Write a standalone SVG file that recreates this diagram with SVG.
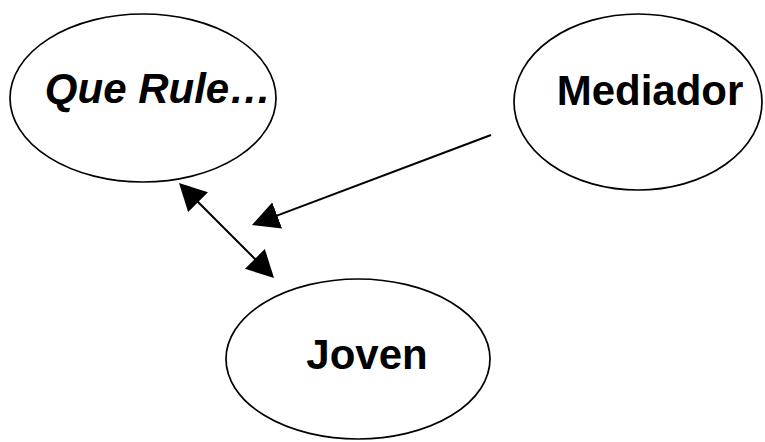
<svg xmlns="http://www.w3.org/2000/svg" width="765" height="442" viewBox="0 0 765 442">
<style>
.node{fill:#fff;stroke:#000;stroke-width:1.7}
.lbl{font-family:"Liberation Sans",Arial,sans-serif;font-weight:bold;font-size:42px;fill:#000;text-anchor:middle}
.edge{stroke:#000;stroke-width:2;fill:none}
</style>
<defs>
<marker id="ah" viewBox="0 0 27 28" refX="23" refY="14" markerWidth="27" markerHeight="28" markerUnits="userSpaceOnUse" orient="auto-start-reverse">
<path d="M0,0 L27,14 L0,28 z" fill="#000"/>
</marker>
</defs>
<rect width="765" height="442" fill="#fff"/>
<g id="que-rule">
<ellipse class="node" cx="143" cy="98" rx="133" ry="84"/>
<text class="lbl" x="158" y="103" font-style="italic" font-size="41">Que Rule…</text>
</g>
<g id="mediador">
<ellipse class="node" cx="638" cy="102" rx="124" ry="88"/>
<text class="lbl" x="650" y="105">Mediador</text>
</g>
<g id="joven">
<ellipse class="node" cx="358" cy="359" rx="132" ry="80"/>
<text class="lbl" x="367" y="369">Joven</text>
</g>
<g id="connectors">
<line class="edge" x1="491" y1="135" x2="255.7" y2="223.6" marker-end="url(#ah)"/>
<line class="edge" x1="181.8" y1="185.8" x2="271.2" y2="275.2" marker-start="url(#ah)" marker-end="url(#ah)"/>
</g>
</svg>
